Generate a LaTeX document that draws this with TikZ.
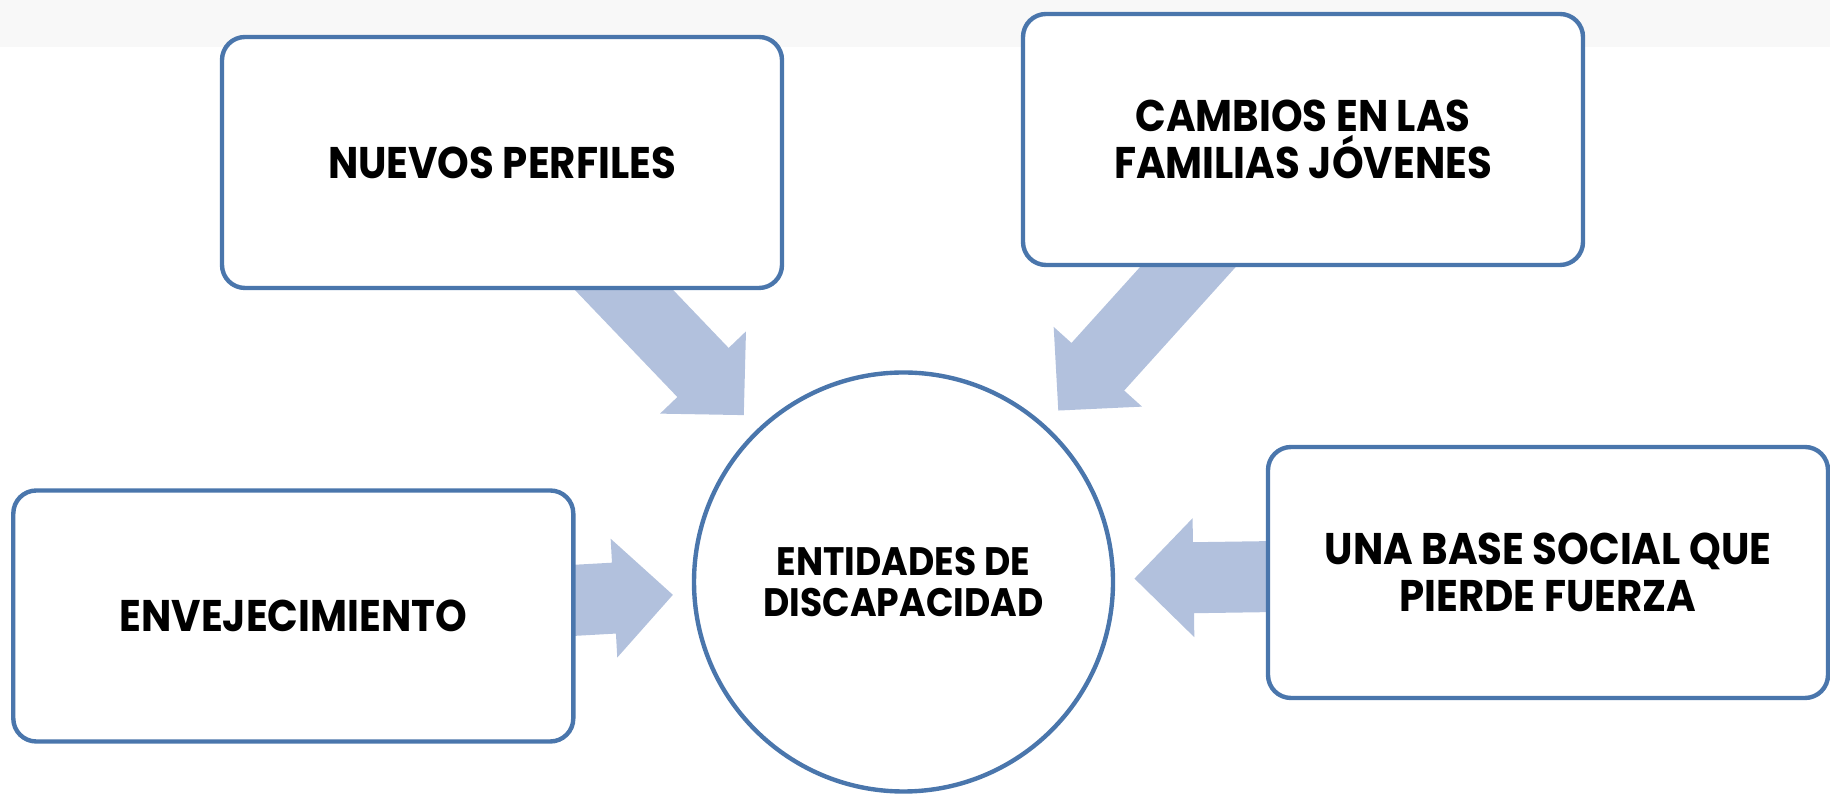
\documentclass[tikz,border=0pt]{standalone}
\usepackage{fontspec}
\setmainfont{Poppins}[FakeStretch=0.91]
\usetikzlibrary{positioning,calc,backgrounds}
\definecolor{boxblue}{RGB}{74,118,172}
\definecolor{arrowblue}{RGB}{178,193,221}
\definecolor{bandgray}{RGB}{248,248,248}

% broad block arrow from one node towards the hub
\newcommand{\bigarrow}[2]{%
  \coordinate (tip) at ($(#2.center)!2.31cm!(#1.center)$);
  \coordinate (neck) at ($(tip)!0.59cm!(#1.center)$);
  \fill[arrowblue] ($(#1.center)!0.355cm!90:(tip)$) -- ($(neck)!0.355cm!90:(tip)$)
    -- ($(neck)!0.595cm!90:(tip)$) -- (tip) -- ($(neck)!0.595cm!-90:(tip)$)
    -- ($(neck)!0.355cm!-90:(tip)$) -- ($(#1.center)!0.355cm!-90:(tip)$) -- cycle;
}

\begin{document}
\begin{tikzpicture}[x=1cm,y=1cm,
    causebox/.style={draw=boxblue,line width=1.25pt,fill=white,rounded corners=0.23cm,
      minimum width=5.6cm,minimum height=2.51cm,align=center,inner sep=0pt,
      font=\bfseries\fontsize{12.6}{13.4}\selectfont},
    hubcircle/.style={circle,draw=boxblue,line width=1.25pt,fill=white,minimum size=4.19cm,
      align=center,inner sep=0pt,font=\bfseries\fontsize{11.3}{11.6}\selectfont}]
  \useasboundingbox (0,0) rectangle (18.3,7.94);
  \node[hubcircle] (entidades) at (9.035,2.12) {ENTIDADES DE\\DISCAPACIDAD};
  \node[causebox] (nuevos) at (5.02,6.315) {NUEVOS PERFILES};
  \node[causebox] (cambios) at (13.03,6.545) {CAMBIOS EN LAS\\FAMILIAS JÓVENES};
  \node[causebox] (envej) at (2.933,1.78) {ENVEJECIMIENTO};
  \node[causebox] (base) at (15.48,2.215) {UNA BASE SOCIAL QUE\\PIERDE FUERZA};
  \begin{scope}[on background layer]
    \fill[bandgray] (0,7.47) rectangle (18.3,7.94);
    \bigarrow{nuevos}{entidades}
    \bigarrow{cambios}{entidades}
    \bigarrow{envej}{entidades}
    \bigarrow{base}{entidades}
  \end{scope}
\end{tikzpicture}
\end{document}
